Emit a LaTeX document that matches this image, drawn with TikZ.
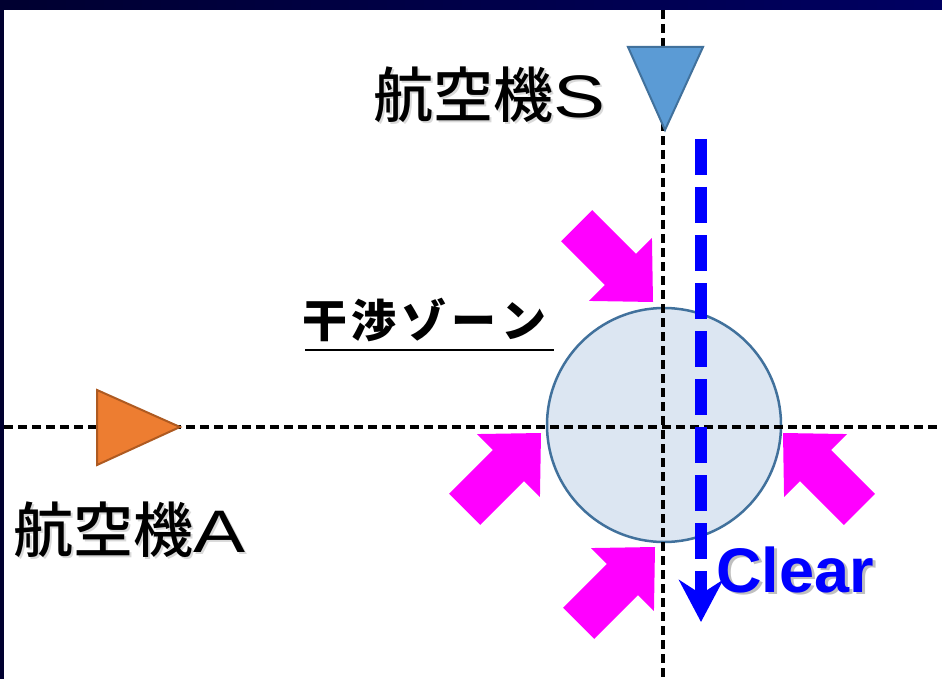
\documentclass[tikz,border=0pt]{standalone}
\usepackage{fontspec}
\usepackage{graphicx}
\newfontfamily\jpfont{Noto Sans CJK JP}
\newfontfamily\jpmed{Noto Sans CJK JP Medium}
\newfontfamily\arialfont{Liberation Sans}
\usetikzlibrary{arrows.meta}
\definecolor{navyA}{HTML}{000030}
\definecolor{navyB}{HTML}{000062}
\definecolor{zonefill}{HTML}{DCE6F2}
\definecolor{zoneline}{HTML}{41719C}
\definecolor{orangeA}{HTML}{ED7D31}
\definecolor{orangeB}{HTML}{AE5A21}
\definecolor{blueA}{HTML}{5B9BD5}
\definecolor{pushcol}{HTML}{FF00FF}
\definecolor{clearblue}{HTML}{0000FF}
\tikzset{
  guide/.style={black, line width=3.5pt, dash pattern=on 9pt off 5pt},
  zonecircle/.style={circle, minimum size=234pt, inner sep=0pt, fill=zonefill, draw=zoneline, line width=2.5pt},
  planeA/.style={fill=orangeA, draw=orangeB, line width=2pt, line join=miter},
  planeS/.style={fill=blueA, draw=zoneline, line width=2pt, line join=miter},
  pusharrow/.pic={\fill[pushcol] (0,0) -- (-46,-44.5) -- (-46,-22) -- (-108,-22) -- (-108,22) -- (-46,22) -- (-46,44.5) -- cycle;},
  clearpath/.style={draw=clearblue, line width=12pt, dash pattern=on 36pt off 12pt,
     -{Stealth[length=42pt, width=44pt, inset=14pt]}},
  bigtext/.style={inner sep=0pt, outer sep=0pt, anchor=base west, font=\jpmed\fontsize{60}{60}\selectfont},
  shadowtext/.style={text=black!15},
  zonetext/.style={inner sep=0pt, outer sep=0pt, anchor=base west, font=\jpfont\bfseries\fontsize{45}{45}\selectfont},
  cleartext/.style={inner sep=0pt, outer sep=0pt, anchor=base west, font=\arialfont\bfseries\fontsize{63}{63}\selectfont}
}
\newcommand{\widelat}[1]{\scalebox{1.3}[1]{\arialfont #1}}
\begin{document}
\begin{tikzpicture}[x=1pt, y=-1pt]
\useasboundingbox (0,0) rectangle (942,679);
\fill[white] (0,0) rectangle (942,679);
\shade[left color=navyA, right color=navyB] (0,0) rectangle (942,10);
\fill[navyA] (0,0) rectangle (4,679);

% interference zone
\node[zonecircle] (zone) at (664,425) {};

% guide lines
\coordinate (hL) at (4,427);
\coordinate (hR) at (942,427);
\coordinate (vT) at (663,10);
\coordinate (vB) at (663,679);
\draw[guide] (hL) -- (hR);
\draw[guide] (vT) -- (vB);

% aircraft
\draw[planeA] (97,390) -- (97,465) -- (180,427) -- cycle;
\draw[planeS] (628,47) -- (703,47) -- (665,130) -- cycle;

% push arrows
\pic[rotate=-45] at (653,302) {pusharrow};
\pic[rotate=45] at (541,433) {pusharrow};
\pic[rotate=135] at (783,433) {pusharrow};
\pic[rotate=45] at (655,547) {pusharrow};

% clear path
\coordinate (clrTop) at (701,139);
\coordinate (clrEnd) at (701,622);
\draw[clearpath] (clrTop) -- (clrEnd);

% labels
\node[bigtext, shadowtext] (acSsh) at (375,120) {航空機\widelat{S}};
\node[bigtext] (acS) at (373,118) {航空機\widelat{S}};
\node[bigtext, shadowtext] (acAsh) at (15,554) {航空機\widelat{A}};
\node[bigtext] (acA) at (13,552) {航空機\widelat{A}};

\node[zonetext] (zlabel) at (302,337) {干\hspace{5pt}渉\hspace{5pt}ゾ\hspace{5pt}ー\hspace{5pt}ン};
\coordinate (ulL) at (305,350);
\coordinate (ulR) at (554,350);
\draw[black, line width=2.5pt] (ulL) -- (ulR);

\node[cleartext, text=black!25] (clearsh) at (719,594) {Clear};
\node[cleartext, text=clearblue] (clear) at (716,592) {Clear};
\end{tikzpicture}
\end{document}
